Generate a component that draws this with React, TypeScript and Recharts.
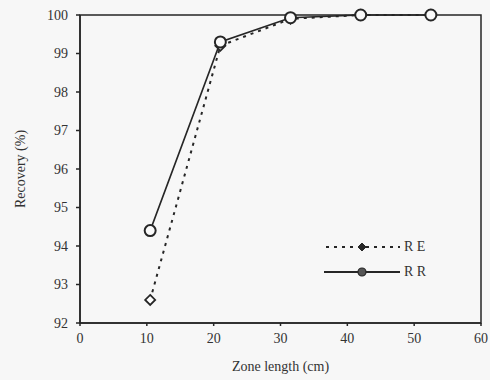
import React from "react";
import {
  LineChart,
  Line,
  XAxis,
  YAxis,
  ReferenceArea,
} from "recharts";

// Zone length (cm) for each measured point
const zoneLength = [10.5, 21, 31.5, 42, 52.5];
// Recovery (%) for the two cases
const recoveryRE = [92.6, 99.2, 99.9, 100.0, 100.0];
const recoveryRR = [94.4, 99.3, 99.93, 100.0, 100.0];

const xTicks = [0, 10, 20, 30, 40, 50, 60];
const yTicks = [92, 93, 94, 95, 96, 97, 98, 99, 100];

const chartData = zoneLength.map((x, i) => ({
  x,
  re: recoveryRE[i],
  rr: recoveryRR[i],
}));

const INK = "#262626";
const FONT = "'Liberation Serif', 'DejaVu Serif', serif";

const Diamond = (props: any) => {
  const { cx, cy } = props;
  if (cx == null || cy == null) return null;
  const r = 5;
  return (
    <path
      d={`M${cx},${cy - r}L${cx + r},${cy}L${cx},${cy + r}L${cx - r},${cy}Z`}
      fill="#fff"
      stroke={INK}
      strokeWidth={1.8}
    />
  );
};

const Ring = (props: any) => {
  const { cx, cy } = props;
  if (cx == null || cy == null) return null;
  return <circle cx={cx} cy={cy} r={5.5} fill="#fafafa" stroke={INK} strokeWidth={2} />;
};

// Legend sits inside the plot area, lower right
const LegendBox = () => (
  <svg width={130} height={50} style={{ position: "absolute", left: 322, top: 235 }}>
    <line x1={4} y1={12} x2={78} y2={12} stroke={INK} strokeWidth={1.8} strokeDasharray="3 5" />
    <path d="M40,8L44,12L40,16L36,12Z" fill={INK} stroke={INK} strokeWidth={1} />
    <text x={82} y={16} fontFamily={FONT} fontSize={14} fill="#333">R E</text>
    <line x1={2} y1={37} x2={78} y2={37} stroke={INK} strokeWidth={1.8} />
    <circle cx={40} cy={37} r={4} fill="#555" stroke={INK} strokeWidth={1.2} />
    <text x={82} y={41} fontFamily={FONT} fontSize={14} fill="#333">R R</text>
  </svg>
);

export default function App() {
  const tickStyle = { fontFamily: FONT, fontSize: 14, fill: "#333" };
  return (
    <div style={{ position: "fixed", left: 0, top: 0, width: 490, height: 380, background: "#f7f7f7" }}>
      <LineChart
        width={490}
        height={380}
        data={chartData}
        margin={{ top: 15, right: 9, left: 0, bottom: 0 }}
      >
        <XAxis
          dataKey="x"
          type="number"
          domain={[0, 60]}
          ticks={xTicks}
          height={57}
          stroke={INK}
          strokeWidth={1.5}
          tickSize={3}
          tick={tickStyle}
          tickMargin={7}
          label={{
            value: "Zone length (cm)",
            position: "insideBottom",
            offset: 9,
            style: { fontFamily: FONT, fontSize: 14, fill: "#333" },
          }}
        />
        <YAxis
          type="number"
          domain={[92, 100]}
          ticks={yTicks}
          width={80}
          stroke={INK}
          strokeWidth={1.5}
          tickSize={4}
          tick={tickStyle}
          tickMargin={8}
          label={{
            value: "Recovery (%)",
            angle: -90,
            position: "insideLeft",
            offset: 20,
            style: { textAnchor: "middle", fontFamily: FONT, fontSize: 14, fill: "#333" },
          }}
        />
        <ReferenceArea
          x1={0}
          x2={60}
          y1={92}
          y2={100}
          fill="none"
          stroke={INK}
          strokeWidth={1.5}
          ifOverflow="visible"
        />
        <Line
          dataKey="re"
          name="R E"
          stroke={INK}
          strokeWidth={2}
          strokeDasharray="3 5"
          dot={<Diamond />}
          isAnimationActive={false}
        />
        <Line
          dataKey="rr"
          name="R R"
          stroke={INK}
          strokeWidth={1.6}
          dot={<Ring />}
          isAnimationActive={false}
        />
      </LineChart>
      <LegendBox />
    </div>
  );
}
